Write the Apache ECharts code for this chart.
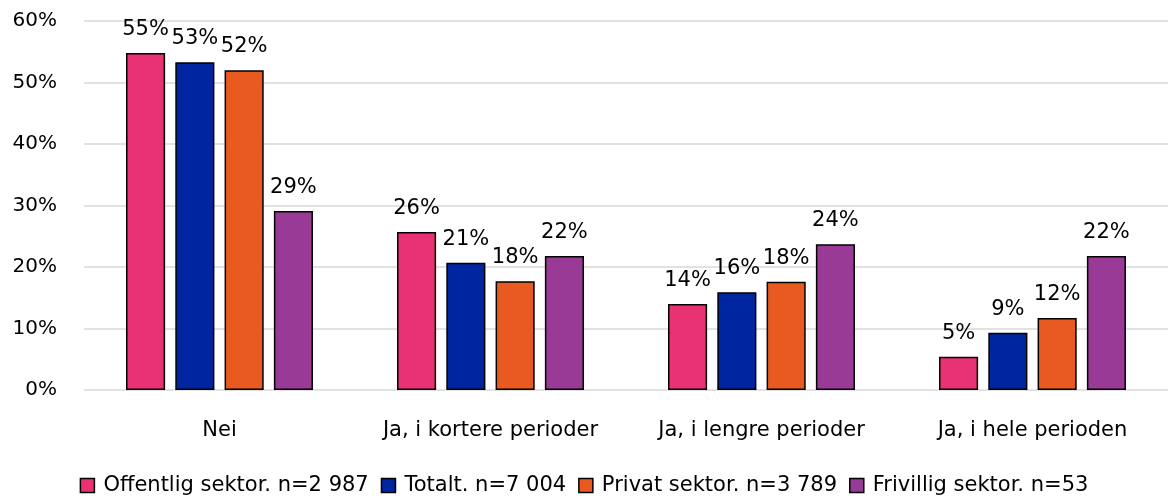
<!DOCTYPE html>
<html>
<head>
    <meta charset="utf-8">
    <title>Chart</title>
    <script src="https://cdn.jsdelivr.net/npm/echarts@6/dist/echarts.min.js"></script>
    <style>
        html, body { margin: 0; padding: 0; background: #fff; }
        #chart { width: 1168px; height: 502px; }
    </style>
</head>
<body>
    <div id="chart"></div>
    <script>
        var categories = ['Nei', 'Ja, i kortere perioder', 'Ja, i lengre perioder', 'Ja, i hele perioden'];
        var seriesNames = ['Offentlig sektor. n=2 987', 'Totalt. n=7 004', 'Privat sektor. n=3 789', 'Frivillig sektor. n=53'];
        var offentlig = [54.8, 25.7, 14.0, 5.4];
        var totalt = [53.3, 20.7, 15.9, 9.3];
        var privat = [52.0, 17.7, 17.6, 11.7];
        var frivillig = [29.1, 21.8, 23.7, 21.8];
        var yTicks = [0, 10, 20, 30, 40, 50, 60];

        var colors = ['#E83273', '#0025A0', '#E95A20', '#993A96'];
        var font = '"DejaVu Sans", sans-serif';

        // one bar series per sector
        function bar(name, data, color) {
            return {
                name: name,
                type: 'bar',
                data: data,
                barGap: '26%',
                barCategoryGap: '31%',
                itemStyle: { color: color, borderColor: '#000', borderWidth: 1.5 },
                label: {
                    show: true,
                    position: 'top',
                    distance: 13,
                    color: '#000',
                    fontSize: 21,
                    fontFamily: font,
                    formatter: p => Math.round(p.value) + '%'
                }
            };
        }

        var chart = echarts.init(document.getElementById('chart'));
        chart.setOption({
            animation: false,
            grid: { left: 84, right: 0, top: 21, bottom: 112, containLabel: false },
            legend: {
                bottom: 1,
                left: 'center',
                itemWidth: 14,
                itemHeight: 14,
                itemGap: 12,
                icon: 'rect',
                textStyle: { fontSize: 21, fontFamily: font, color: '#000', padding: [0, 0, 0, 4] },
                itemStyle: { borderColor: '#000', borderWidth: 1.5 },
                data: seriesNames
            },
            xAxis: {
                type: 'category',
                data: categories,
                axisLine: { show: false },
                axisTick: { show: false },
                axisLabel: { interval: 0, hideOverlap: false, fontSize: 21, fontFamily: font, color: '#000', margin: 30 }
            },
            yAxis: {
                type: 'value',
                min: yTicks[0],
                max: yTicks[yTicks.length - 1],
                interval: 10,
                axisLabel: { fontSize: 20, fontFamily: font, color: '#000', margin: 27, formatter: '{value}%' },
                splitLine: { lineStyle: { color: '#d9d9d9', width: 1.5 } }
            },
            series: [
                bar(seriesNames[0], offentlig, colors[0]),
                bar(seriesNames[1], totalt, colors[1]),
                bar(seriesNames[2], privat, colors[2]),
                bar(seriesNames[3], frivillig, colors[3])
            ]
        });
    </script>
</body>
</html>
